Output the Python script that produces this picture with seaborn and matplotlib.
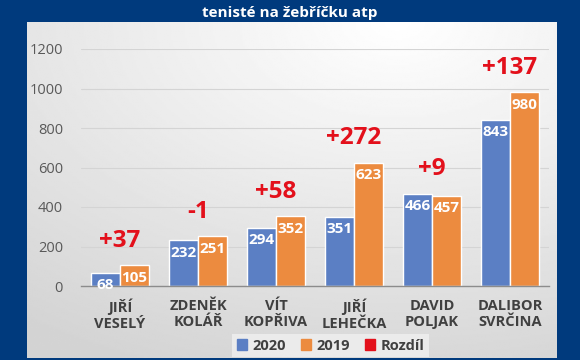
import matplotlib
matplotlib.use("Agg")
import numpy as np
import pandas as pd
import matplotlib.pyplot as plt
import seaborn as sns
from matplotlib.patches import Patch


# Data
players = ["JIŘÍ\nVESELÝ", "ZDENĚK\nKOLÁŘ", "VÍT\nKOPŘIVA",
           "JIŘÍ\nLEHEČKA", "DAVID\nPOLJAK", "DALIBOR\nSVRČINA"]
rank_2020 = [68, 232, 294, 351, 466, 843]
rank_2019 = [105, 251, 352, 623, 457, 980]
rozdil = ["+37", "-1", "+58", "+272", "+9", "+137"]
years = ["2020", "2019"]

BLUE = "#5b7fc4"
ORANGE = "#ec8b3f"
RED = "#e3101b"
BG = "#003a7d"

df = pd.DataFrame({
    "player": players * 2,
    "year": [years[0]] * len(players) + [years[1]] * len(players),
    "value": rank_2020 + rank_2019,
})

sns.set_theme(style="white")
plt.rcParams["font.family"] = ["Open Sans", "DejaVu Sans"]

fig = plt.figure(figsize=(5.8, 3.6), dpi=100)
fig.patch.set_facecolor(BG)

# light gradient panel behind the chart
bg = fig.add_axes([27 / 580, 2 / 360, 530 / 580, 336 / 360])
yy, xx = np.mgrid[0:1:200j, 0:1:300j]
grad = 1 - 0.17 * np.clip(np.sqrt(((xx - 0.7) * 0.85) ** 2 + (yy * 0.9) ** 2), 0, 1)
bg.imshow(grad, cmap="gray", vmin=0, vmax=1, aspect="auto",
          extent=[0, 1, 0, 1], origin="upper")
bg.set_axis_off()

ax = fig.add_axes([81 / 580, 74 / 360, 468 / 580, 237 / 360])
ax.patch.set_alpha(0)

sns.barplot(data=df, x="player", y="value", hue="year",
            palette=[BLUE, ORANGE], width=0.74, gap=0,
            saturation=1, ax=ax, legend=False)

ax.set_ylim(0, 1200)
ax.set_yticks(range(0, 1201, 200))
ax.yaxis.grid(True, color="#d4d4d4", linewidth=0.8)
ax.set_axisbelow(True)
for s in ["top", "right", "left"]:
    ax.spines[s].set_visible(False)
ax.spines["bottom"].set_color("#8c8c8c")
ax.spines["bottom"].set_linewidth(1)
ax.set_xlabel("")
ax.set_ylabel("")
ax.tick_params(axis="y", length=0, pad=13, labelsize=10.5, labelcolor="#595959")
ax.tick_params(axis="x", length=0, pad=9, labelsize=10.5, labelcolor="#404040")
for lbl in ax.get_xticklabels():
    lbl.set_fontweight("bold")

# value labels inside the bars
for cont in ax.containers:
    ax.bar_label(cont, label_type="edge", padding=-14, color="white",
                 fontsize=11, fontweight="bold")

# difference labels above the groups
for i, txt in enumerate(rozdil):
    top = max(rank_2020[i], rank_2019[i])
    ax.annotate(txt, (i, top), xytext=(0, 9), textcoords="offset points",
                ha="center", va="bottom", color=RED, fontsize=17.5,
                fontweight="bold", annotation_clip=False)

# title
fig.text(0.5, 0.965, "tenisté na žebříčku atp", color="white",
         ha="center", va="center", fontsize=11, fontweight="bold")

# legend
handles = [Patch(color=BLUE, label="2020"),
           Patch(color=ORANGE, label="2019"),
           Patch(color=RED, label="Rozdíl")]
leg = fig.legend(handles=handles, loc="center", bbox_to_anchor=(0.57, 0.04),
                 ncol=3, frameon=True, fontsize=10.5, handlelength=0.7,
                 handleheight=0.7, columnspacing=1.0, handletextpad=0.4,
                 borderpad=0.3)
leg.get_frame().set_facecolor("#f0f0f0")
leg.get_frame().set_edgecolor("none")
leg.get_frame().set_boxstyle("square", pad=0)
for t in leg.get_texts():
    t.set_fontweight("bold")
    t.set_color("#404040")

plt.savefig("out.png", dpi=100, facecolor=fig.get_facecolor())
